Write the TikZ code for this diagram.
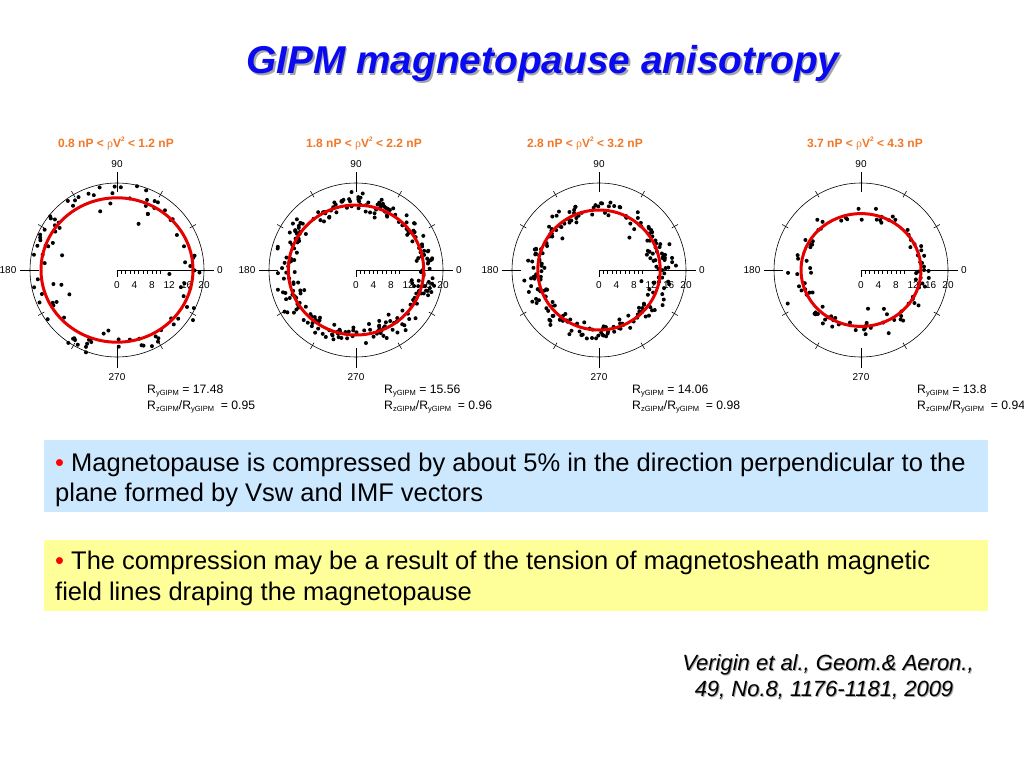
\documentclass[tikz,border=0pt]{standalone}
\usepackage{graphicx}
\usepackage{fontspec}
\setmainfont{Liberation Sans}
\newfontfamily\greekf{Liberation Serif}
\definecolor{titleblue}{RGB}{10,10,240}
\definecolor{shadowgray}{RGB}{165,165,165}
\definecolor{plotorange}{RGB}{240,120,40}
\definecolor{ellred}{RGB}{230,0,0}
\definecolor{boxblue}{RGB}{204,232,255}
\definecolor{boxyellow}{RGB}{255,255,153}
\newcommand\pvtwo{{\greekf\mdseries ρ}V\raisebox{0.5em}{\fontsize{6.5}{7}\selectfont 2}}
\newcommand\gsub[1]{\raisebox{-0.35ex}{\fontsize{7.5}{8}\selectfont #1}}
\tikzset{
  axisline/.style={line width=0.6pt, black},
  axlabel/.style={font=\fontsize{10}{12}\selectfont, inner sep=0pt},
  ptitle/.style={font=\fontsize{12}{14}\selectfont\bfseries, text=plotorange, anchor=base, inner sep=0pt},
  rlabel/.style={font=\fontsize{12.2}{14}\selectfont, anchor=base west, inner sep=0pt},
  bodyline/.style={font=\fontsize{25.5}{30}\selectfont, anchor=base west, inner sep=0pt},
  citeline/.style={font=\fontsize{22}{26}\selectfont\itshape, anchor=base, inner sep=0pt},
  ellipsered/.style={draw=ellred, line width=3pt},
  dotfill/.style={fill=black}
}
% axes of a polar plot; #1 = name prefix
\newcommand\polaraxes[1]{%
  \draw[axisline] (0,0) circle[radius=87];
  \draw[axisline] (0,-78)--(0,-98) (0,78)--(0,98) (-78,0)--(-97,0) (0,0)--(97,0);
  \foreach \t in {30,60,120,150,210,240,300,330} \draw[axisline] (\t:84)--(\t:91);
  \foreach \k in {1,...,10} \draw[axisline] ({\k*4.35},0)--({\k*4.35},3.5);
  \draw[axisline] (0,0)--(0,7);
  \node[axlabel] (#1n90) at (0,-106) {90};
  \node[axlabel] (#1n270) at (0,107) {270};
  \node[axlabel] (#1n180) at (-109,0) {180};
  \node[axlabel] (#1n0) at (103,0) {0};
  \foreach \v in {0,4,8,12,16,20} \node[axlabel] (#1v\v) at ({\v*4.35},15) {\v};
}
% dots: #1 Rx, #2 Rz, #3 N, #4 seed, #5 bias, #6 spread
\newcommand\gdots[6]{%
  \pgfmathsetseed{#4}%
  \foreach \i in {1,...,#3}{%
    \pgfmathsetmacro\ang{360*rnd}%
    \pgfmathsetmacro\fac{1+#5+#6*(rand+rand+rand)}%
    \fill[dotfill] ({\fac*#1*cos(\ang)},{\fac*#2*sin(\ang)}) circle[radius=2pt];
  }%
}
\begin{document}
\begin{tikzpicture}[x=1pt,y=-1pt]
\useasboundingbox (0,0) rectangle (1024,768);
\fill[white] (0,0) rectangle (1024,768);

% title
\node[font=\fontsize{38.8}{44}\selectfont\bfseries\itshape, text=shadowgray, anchor=base, inner sep=0pt] (titleshadow) at (544.5,75.5) {GIPM magnetopause anisotropy};
\node[font=\fontsize{38.8}{44}\selectfont\bfseries\itshape, text=titleblue, anchor=base, inner sep=0pt] (title) at (543,74) {GIPM magnetopause anisotropy};

% plot 1
\begin{scope}[shift={(117,270)}]
  \gdots{76.0}{72.2}{80}{11}{0.05}{0.08}
  \gdots{76.0}{72.2}{20}{23}{-0.08}{0.12}
  \polaraxes{a}
  \draw[ellipsered] (0,0) ellipse[x radius=76.0, y radius=72.2];
\end{scope}
\node[ptitle] (pt1) at (116,147) {0.8 nP < \pvtwo{} < 1.2 nP};
\node[rlabel] (ra1) at (147,393) {R\gsub{yGIPM} = 17.48};
\node[rlabel] (rb1) at (147,409) {R\gsub{zGIPM}/R\gsub{yGIPM}\ \ = 0.95};

% plot 2
\begin{scope}[shift={(356,270)}]
  \gdots{67.7}{65.0}{220}{37}{0.03}{0.075}
  \gdots{67.7}{65.0}{25}{41}{-0.04}{0.12}
  \polaraxes{b}
  \draw[ellipsered] (0,0) ellipse[x radius=67.7, y radius=65.0];
\end{scope}
\node[ptitle] (pt2) at (364,147) {1.8 nP < \pvtwo{} < 2.2 nP};
\node[rlabel] (ra2) at (384,393) {R\gsub{yGIPM} = 15.56};
\node[rlabel] (rb2) at (384,409) {R\gsub{zGIPM}/R\gsub{yGIPM}\ \ = 0.96};

% plot 3
\begin{scope}[shift={(599,270)}]
  \gdots{61.2}{60.0}{190}{53}{0.03}{0.08}
  \gdots{61.2}{60.0}{25}{59}{0.0}{0.13}
  \polaraxes{c}
  \draw[ellipsered] (0,0) ellipse[x radius=61.2, y radius=60.0];
\end{scope}
\node[ptitle] (pt3) at (585,147) {2.8 nP < \pvtwo{} < 3.2 nP};
\node[rlabel] (ra3) at (632,393) {R\gsub{yGIPM} = 14.06};
\node[rlabel] (rb3) at (632,409) {R\gsub{zGIPM}/R\gsub{yGIPM}\ \ = 0.98};

% plot 4
\begin{scope}[shift={(861,270)}]
  \gdots{60.0}{56.4}{80}{71}{0.01}{0.075}
  \gdots{60.0}{56.4}{18}{79}{0.02}{0.13}
  \polaraxes{d}
  \draw[ellipsered] (0,0) ellipse[x radius=60.0, y radius=56.4];
\end{scope}
\node[ptitle] (pt4) at (865,147) {3.7 nP < \pvtwo{} < 4.3 nP};
\node[rlabel] (ra4) at (917,393) {R\gsub{yGIPM} = 13.8};
\node[rlabel] (rb4) at (917,409) {R\gsub{zGIPM}/R\gsub{yGIPM}\ \ = 0.94};

% boxes
\node[fill=boxblue, minimum width=944pt, minimum height=72pt, anchor=north west, inner sep=0pt] (bluebox) at (44,440) {};
\node[bodyline] (b1l1) at (55,471) {{\color{red}•} Magnetopause is compressed by about 5\% in the direction perpendicular to the};
\node[bodyline] (b1l2) at (55,501) {plane formed by Vsw and IMF vectors};

\node[fill=boxyellow, minimum width=944pt, minimum height=71pt, anchor=north west, inner sep=0pt] (yellowbox) at (44,540) {};
\node[bodyline] (b2l1) at (55,569) {{\color{red}•} The compression may be a result of the tension of magnetosheath magnetic};
\node[bodyline] (b2l2) at (55,600) {field lines draping the magnetopause};

% citation
\node[citeline, text=shadowgray] (c1s) at (829,671) {Verigin et al., Geom.\& Aeron.,};
\node[citeline] (c1) at (828,670) {Verigin et al., Geom.\& Aeron.,};
\node[citeline, text=shadowgray] (c2s) at (825,697) {49, No.8, 1176-1181, 2009};
\node[citeline] (c2) at (824,696) {49, No.8, 1176-1181, 2009};
\end{tikzpicture}
\end{document}
